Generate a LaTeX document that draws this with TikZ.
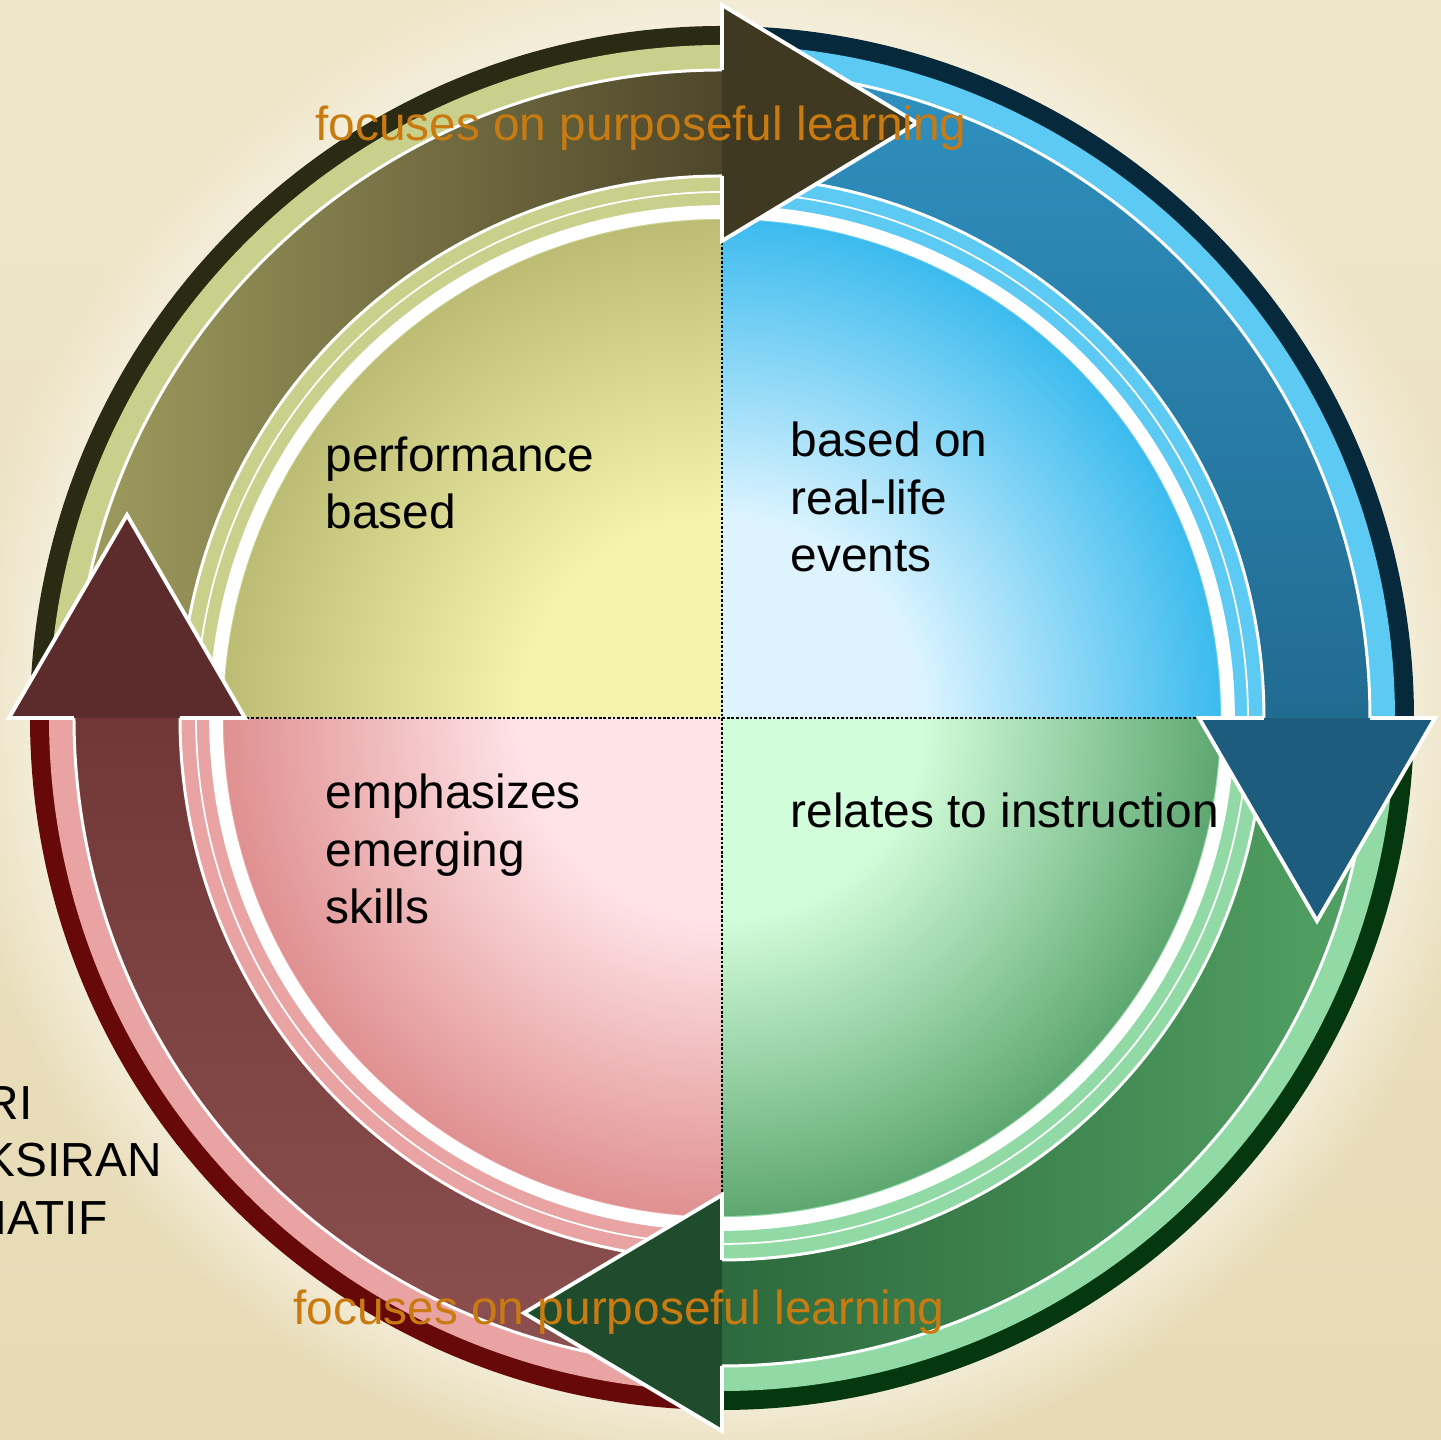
\documentclass[tikz,border=0pt]{standalone}
\usepackage{fontspec}
\setmainfont{Liberation Sans}
\usetikzlibrary{fadings}

\definecolor{bgtop}{HTML}{EFE6CA}
\definecolor{bgbot}{HTML}{E7DAB4}
\definecolor{haloc}{HTML}{F7F3E3}
\definecolor{orangetxt}{HTML}{C97B12}
\definecolor{yelDark}{HTML}{2B2A12}
\definecolor{yelLight}{HTML}{C8D08C}
\definecolor{yelBand}{HTML}{A09D5F}
\definecolor{yelBandDk}{HTML}{4C4529}
\definecolor{yelHead}{HTML}{3E3920}
\definecolor{yelIn}{HTML}{F4F4AE}
\definecolor{yelOut}{HTML}{BDBC74}
\definecolor{bluDark}{HTML}{062A3C}
\definecolor{bluLight}{HTML}{5CCAF2}
\definecolor{bluBand}{HTML}{2F90BF}
\definecolor{bluBandDk}{HTML}{216A90}
\definecolor{bluHead}{HTML}{1E5C7E}
\definecolor{bluIn}{HTML}{DDF4FF}
\definecolor{bluOut}{HTML}{3CBBEE}
\definecolor{grnDark}{HTML}{05380F}
\definecolor{grnLight}{HTML}{92DAA5}
\definecolor{grnBand}{HTML}{52A264}
\definecolor{grnBandDk}{HTML}{2C683C}
\definecolor{grnHead}{HTML}{1F4C2C}
\definecolor{grnIn}{HTML}{D2FDDA}
\definecolor{grnOut}{HTML}{5EA771}
\definecolor{redDark}{HTML}{670909}
\definecolor{redLight}{HTML}{E9A3A3}
\definecolor{redBand}{HTML}{8C5050}
\definecolor{redBandDk}{HTML}{713737}
\definecolor{redHead}{HTML}{5C2C2C}
\definecolor{redIn}{HTML}{FFE4E7}
\definecolor{redOut}{HTML}{E09090}

\pgfdeclareradialshading{qyel}{\pgfpoint{0bp}{0bp}}{color(0bp)=(yelIn); color(10bp)=(yelIn); color(25bp)=(yelOut); color(50bp)=(yelOut)}
\pgfdeclareradialshading{qblu}{\pgfpoint{0bp}{0bp}}{color(0bp)=(bluIn); color(10bp)=(bluIn); color(25bp)=(bluOut); color(50bp)=(bluOut)}
\pgfdeclareradialshading{qgrn}{\pgfpoint{0bp}{0bp}}{color(0bp)=(grnIn); color(10bp)=(grnIn); color(25bp)=(grnOut); color(50bp)=(grnOut)}
\pgfdeclareradialshading{qred}{\pgfpoint{0bp}{0bp}}{color(0bp)=(redIn); color(10bp)=(redIn); color(25bp)=(redOut); color(50bp)=(redOut)}

\tikzset{
  bandedge/.style={draw=white,line width=0.85pt},
  headedge/.style={draw=white,line width=1.1pt,line join=miter},
  dotline/.style={line width=0.75pt,dash pattern=on 0.75pt off 0.55pt},
  lbl/.style={font=\fontsize{13.6}{16.4}\selectfont,align=left,anchor=north west,inner sep=0pt},
  orangelbl/.style={font=\fontsize{13.6}{16.4}\selectfont,text=orangetxt,anchor=base,inner sep=0pt},
  sidelbl/.style={font=\fontsize{13.6}{16.4}\selectfont,anchor=base west,inner sep=0pt}
}

\begin{document}
\begin{tikzpicture}[line join=round,x=0.01cm,y=0.01cm]
\useasboundingbox (-722,-722) rectangle (719,718);
\clip (-722,-722) rectangle (719,718);
\shade[top color=bgtop,bottom color=bgbot] (-722,-722) rectangle (719,718);
\fill[haloc,path fading=circle with fuzzy edge 15 percent] (0,0) circle[radius=765];

\fill[yelDark] (0,0) -- (90:692) arc[start angle=90,end angle=180,radius=692] -- cycle;
\fill[bluDark] (0,0) -- (0:692) arc[start angle=0,end angle=90,radius=692] -- cycle;
\fill[grnDark] (0,0) -- (-90:692) arc[start angle=-90,end angle=0,radius=692] -- cycle;
\fill[redDark] (0,0) -- (180:692) arc[start angle=180,end angle=270,radius=692] -- cycle;
\fill[yelLight] (0,0) -- (90:673) arc[start angle=90,end angle=180,radius=673] -- cycle;
\fill[bluLight] (0,0) -- (0:673) arc[start angle=0,end angle=90,radius=673] -- cycle;
\fill[grnLight] (0,0) -- (-90:673) arc[start angle=-90,end angle=0,radius=673] -- cycle;
\fill[redLight] (0,0) -- (180:673) arc[start angle=180,end angle=270,radius=673] -- cycle;
\draw[white,line width=0.5pt] (0,0) circle[radius=526];
\draw[white,line width=3.9pt] (0,0) circle[radius=506];

\begin{scope}
\clip (0,0) -- (90:498) arc[start angle=90,end angle=180,radius=498] -- cycle;
\shade[shading=qyel] (0,0) circle[radius=498];
\end{scope}
\begin{scope}
\clip (0,0) -- (0:498) arc[start angle=0,end angle=90,radius=498] -- cycle;
\shade[shading=qblu] (0,0) circle[radius=498];
\end{scope}
\begin{scope}
\clip (0,0) -- (-90:498) arc[start angle=-90,end angle=0,radius=498] -- cycle;
\shade[shading=qgrn] (0,0) circle[radius=498];
\end{scope}
\begin{scope}
\clip (0,0) -- (180:498) arc[start angle=180,end angle=270,radius=498] -- cycle;
\shade[shading=qred] (0,0) circle[radius=498];
\end{scope}
\draw[dotline] (-498,0) -- (498,0);
\draw[dotline] (0,498) -- (0,-498);

\shade[left color=yelBand,right color=yelBandDk] (180:648) arc[start angle=180,end angle=89,radius=648] -- (89:542) arc[start angle=89,end angle=180,radius=542] -- cycle;
\shade[top color=bluBand,bottom color=bluBandDk] (90:648) arc[start angle=90,end angle=-1,radius=648] -- (-1:542) arc[start angle=-1,end angle=90,radius=542] -- cycle;
\shade[right color=grnBand,left color=grnBandDk] (0:648) arc[start angle=0,end angle=-91,radius=648] -- (-91:542) arc[start angle=-91,end angle=0,radius=542] -- cycle;
\shade[bottom color=redBand,top color=redBandDk] (-90:648) arc[start angle=-90,end angle=-181,radius=648] -- (-181:542) arc[start angle=-181,end angle=-90,radius=542] -- cycle;
\draw[bandedge] (180:648) arc[start angle=180,end angle=89,radius=648];
\draw[bandedge] (180:542) arc[start angle=180,end angle=89,radius=542];
\draw[bandedge] (90:648) arc[start angle=90,end angle=-1,radius=648];
\draw[bandedge] (90:542) arc[start angle=90,end angle=-1,radius=542];
\draw[bandedge] (0:648) arc[start angle=0,end angle=-91,radius=648];
\draw[bandedge] (0:542) arc[start angle=0,end angle=-91,radius=542];
\draw[bandedge] (-90:648) arc[start angle=-90,end angle=-181,radius=648];
\draw[bandedge] (-90:542) arc[start angle=-90,end angle=-181,radius=542];

\filldraw[headedge,fill=yelHead] (0,648) -- (0,713) -- (195,595) -- (0,477) -- (0,542);
\filldraw[headedge,fill=bluHead] (648,0) -- (713,0) -- (595,-203) -- (477,0) -- (542,0);
\filldraw[headedge,fill=grnHead] (0,-648) -- (0,-713) -- (-198,-595) -- (0,-477) -- (0,-542);
\filldraw[headedge,fill=redHead] (-648,0) -- (-713,0) -- (-595,203) -- (-477,0) -- (-542,0);

\node[lbl] (perf) at (-397,282) {performance\\based};
\node[lbl] (emerg) at (-397,-55) {emphasizes\\emerging\\skills};
\node[lbl] (reallife) at (68,297) {based on\\real-life\\events};
\node[lbl] (instr) at (68,-74) {relates to instruction};
\node[orangelbl] (purptop) at (-81,577) {focuses on purposeful learning};
\node[orangelbl] (purpbot) at (-103,-607) {focuses on purposeful learning};
\node[sidelbl] (sidea) at (-738,-402) {RI};
\node[sidelbl] (sideb) at (-739,-459) {KSIRAN};
\node[sidelbl] (sidec) at (-750,-517) {NATIF};
\end{tikzpicture}
\end{document}
